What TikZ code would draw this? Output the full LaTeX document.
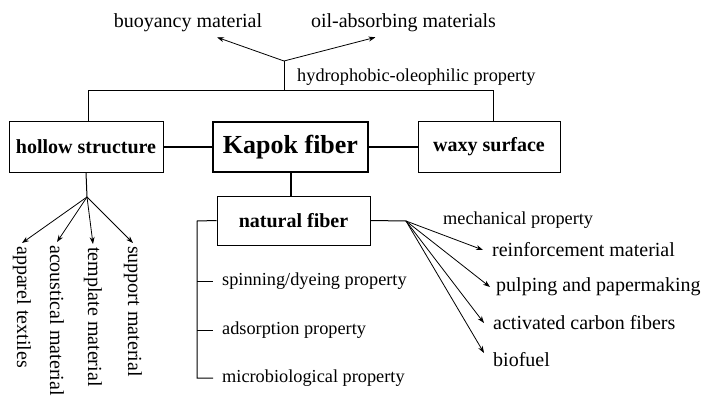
\documentclass[tikz,border=0pt]{standalone}
\usepackage{fontspec}
\setmainfont{Liberation Serif}
\usetikzlibrary{arrows.meta,positioning}

\newcommand{\lblsize}{\fontsize{20}{24}\selectfont}
\newcommand{\propsize}{\fontsize{18.3}{22}\selectfont}
\newcommand{\kapoksize}{\fontsize{26}{30}\selectfont}

\tikzset{
  box/.style={draw, rectangle, line width=1pt, minimum height=50pt, inner sep=0pt, font=\lblsize\bfseries},
  lbl/.style={inner sep=1pt, font=\lblsize},
  prop/.style={inner sep=1pt, font=\propsize, anchor=west},
  vlbl/.style={lbl, rotate=-90, anchor=west, inner xsep=3pt},
  rlbl/.style={lbl, anchor=west, inner xsep=9pt},
  tickprop/.style={prop, inner xsep=9pt},
  arr/.style={-{Stealth[length=7pt,width=5pt]}, line width=0.8pt},
  thin link/.style={line width=1pt},
  heavy link/.style={line width=2pt}
}

\begin{document}
\begin{tikzpicture}[x=1pt,y=-1pt]
    \path[use as bounding box, fill=white] (0,0) rectangle (706,401);

    % Boxes
    \node[box, minimum width=155pt, line width=2pt, font=\kapoksize\bfseries] (kapok) at (290.5,147) {Kapok fiber};
    \node[box, minimum width=154pt] (hollow) at (86,147) {hollow structure};
    \node[box, minimum width=142pt] (waxy) at (489,147) {waxy surface};
    \node[box, minimum width=153pt, minimum height=49pt] (natural) at (293.5,220.5) {natural fiber};

    \draw[heavy link] (hollow.east) -- (kapok.west);
    \draw[heavy link] (kapok.east) -- (waxy.west);
    \draw[heavy link] (kapok.south) -- (kapok.south |- natural.north);

    % Top branch
    \node[lbl] (buoy) at (188,23) {buoyancy material};
    \node[lbl] (oil) at (403.5,23) {oil-absorbing materials};
    \node[prop] (hydro) at (296,77) {hydrophobic-oleophilic property};
    \coordinate (hub) at (284,61);
    \coordinate (barL) at (88,91);
    \coordinate (barR) at (493,91);
    \draw[thin link] (hollow.north -| barL) -- (barL) -- (barR) -- (waxy.north -| barR);
    \draw[thin link] (hub) -- (hub |- barL);
    \draw[arr] (hub) -- ([shift={(29pt,-4pt)}]buoy.south);
    \draw[arr] (hub) -- ([shift={(-28pt,-4pt)}]oil.south);

    % Hollow structure uses
    \coordinate (hfan) at (87,197);
    \draw[thin link] (hollow.south) -- (hfan);
    \node[vlbl] (apparel) at (22,243) {apparel textiles};
    \node[vlbl] (acoustic) at (57,242) {acoustical material};
    \node[vlbl] (template) at (93,244) {template material};
    \node[vlbl] (support) at (133,243) {support material};
    \foreach \n in {apparel,acoustic,template,support}
        \draw[arr] (hfan) -- (\n.west);

    % Natural fiber properties
    \coordinate (spine) at (197,221);
    \node[tickprop] (spin) at (213,281) {spinning/dyeing property};
    \node[tickprop] (adsorb) at (213,330) {adsorption property};
    \node[tickprop] (micro) at (213,378) {microbiological property};
    \draw[thin link] (natural.west) -- (spine) |- (micro.west);
    \draw[thin link] (spine |- spin.west) -- (spin.west);
    \draw[thin link] (spine |- adsorb.west) -- (adsorb.west);

    % Mechanical property
    \coordinate (nfan) at (406,221);
    \draw[thin link] (natural.east) -- (nfan);
    \node[prop] (mech) at (442,220) {mechanical property};
    \node[rlbl] (reinf) at (483,250) {reinforcement material};
    \node[rlbl, inner xsep=6pt] (pulp) at (490,287) {pulping and papermaking};
    \node[rlbl] (carbon) at (484,323) {activated carbon fibers};
    \node[rlbl] (biofuel) at (484,360) {biofuel};
    \foreach \n in {reinf,pulp,carbon}
        \draw[arr] (nfan) -- (\n.west);
    \draw[arr] (nfan) -- ([yshift=7pt]biofuel.west);
\end{tikzpicture}
\end{document}
